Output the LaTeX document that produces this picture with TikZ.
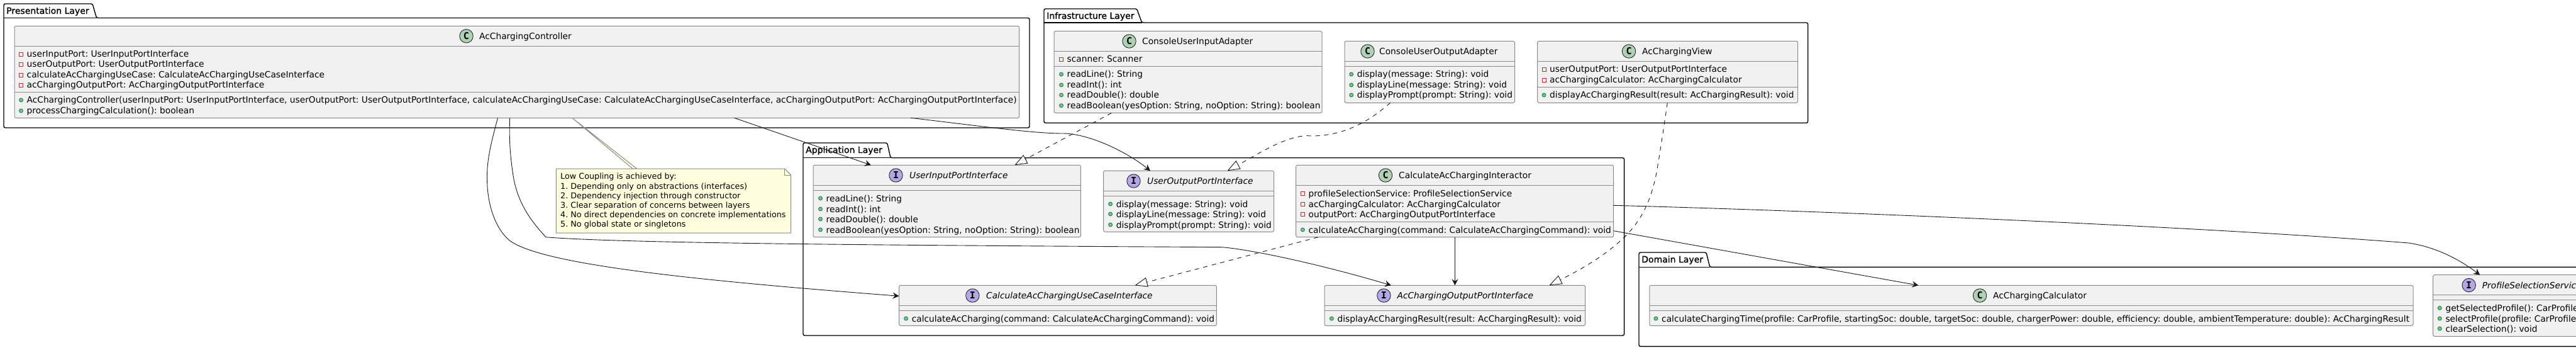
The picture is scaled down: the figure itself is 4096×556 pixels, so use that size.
\documentclass[tikz,border=0pt]{standalone}
\usepackage{fontspec}
\setmainfont{DejaVu Sans}
\setmonofont{DejaVu Sans Mono}
\newfontfamily\pkgfont[FakeBold=1.3]{DejaVu Sans}
\usetikzlibrary{arrows.meta}
\definecolor{boxfill}{HTML}{F1F1F1}
\definecolor{boxline}{HTML}{8A8A8A}
\definecolor{inkline}{HTML}{181818}
\definecolor{classgreen}{HTML}{ADD1B2}
\definecolor{ifacepurple}{HTML}{B4A7E5}
\definecolor{privred}{HTML}{C82930}
\definecolor{pubfill}{HTML}{84BE84}
\definecolor{publine}{HTML}{038048}
\definecolor{noteyellow}{HTML}{FEFFDD}
\frenchspacing
\tikzset{
    pkgframe/.style={draw=black, line width=1.4pt, rounded corners=2.5pt},
    pkglabel/.style={anchor=base west, inner sep=0pt, font=\fontsize{14}{16}\pkgfont},
    classbox/.style={rectangle, draw=boxline, fill=boxfill, line width=1pt, rounded corners=2.5pt, anchor=north west, inner sep=0pt, outer sep=0pt},
    sepline/.style={draw=boxline, line width=1pt},
    classmark/.style={circle, draw=inkline, fill=classgreen, line width=.8pt, minimum size=21.5pt, inner sep=0pt, font=\fontsize{15}{15}\ttfamily\bfseries},
    ifacemark/.style={classmark, fill=ifacepurple},
    titletext/.style={anchor=base west, inner sep=0pt, font=\fontsize{13.75}{16}\selectfont},
    ifacetext/.style={titletext, font=\fontsize{13.75}{16}\selectfont\itshape},
    rowtext/.style={anchor=base west, inner sep=0pt, font=\fontsize{13.75}{16}\selectfont},
    privmark/.style={draw=privred, line width=.9pt},
    pubmark/.style={draw=publine, fill=pubfill, line width=.8pt},
    uses/.style={->, draw=inkline, line width=.9pt},
    realizes/.style={draw=inkline, line width=.9pt, dash pattern=on 7pt off 7pt, -{Triangle[open, length=20pt, width=15pt, fill=white]}},
    notebox/.style={rectangle, minimum width=373.2pt, minimum height=102pt, anchor=north west, inner sep=0pt, outer sep=0pt},
    notefill/.style={draw=boxline, fill=noteyellow, line width=1pt},
    notetext/.style={anchor=north west, align=left, inner sep=0pt, font=\fontsize{12.75}{15.2}\selectfont}
}
\begin{document}
\begin{tikzpicture}[x=1pt, y=-1pt, >={Stealth[length=10pt, width=10pt, inset=3.5pt]}]
    \clip[use as bounding box] (0,0) rectangle (4096,556);
    % layers
    \foreach \n/\l/\x/\y/\t/\b/\h/\r/\e in {present/Presentation Layer/6/6/147/153.5/28.5/1637/203, infra/Infrastructure Layer/1660/14/1807.6/1815.6/36/2874.7/195.3, app/Application Layer/1277/227/1410.7/1416/250.7/2582.6/533, domain/Domain Layer/2606/401/2713/2718.7/424.3/4130/550.3} {
        \draw[pkgframe] (\x,\h) -- (\x,\y) -- (\t,\y) -- (\b,\h) -- (\r,\h) -- (\r,\e) -- (\x,\e) -- cycle;
        \draw[pkgframe] (\x,\h) -- (\b,\h);
        \node[pkglabel] (\n) at (\x+4,\y+16) {\l};
    }
    % class boxes
    \foreach \b/\x/\y/\w/\h/\s in {ctrl/23/41.3/1597.5/146/105, cinput/1676/49.5/426/130/56, coutput/2138/65.3/270.5/98/40, view/2444.6/65.3/414.1/98/73, uinput/1293/262.3/425.4/114.4/40, uoutput/1754.6/271.3/270.9/97/40, interactor/2060.7/262.3/504.9/114.4/90, usecase/1429.5/453.3/504.9/64/40, outport/2106/453.3/414.5/64/40, calculator/2622.8/453.3/1214.2/64/40, profile/3868.7/436.7/300/97.6/40} {
        \node[classbox, minimum width=\w pt, minimum height=\h pt] (\b) at (\x,\y) {};
        \draw[sepline] ([yshift=-32pt]\b.north west) -- ([yshift=-32pt]\b.north east);
        \draw[sepline] ([yshift=-\s pt]\b.north west) -- ([yshift=-\s pt]\b.north east);
    }
    % headers
    \foreach \n/\x/\y/\t/\l in {ctrl/741.5/57.3/762/AcChargingController, cinput/1795.5/65.5/1816/ConsoleUserInputAdapter, coutput/2174.5/81.5/2193/ConsoleUserOutputAdapter, view/2590/81.5/2611/AcChargingView, interactor/2203/278.5/2224/CalculateAcChargingInteractor, calculator/3148/469.5/3169/AcChargingCalculator} {
        \node[classmark] (\n mark) at (\x,\y) {C};
        \node[titletext] (\n title) at (\t,\y+5) {\l};
    }
    \foreach \n/\x/\y/\t/\l in {uinput/1424.5/278.5/1446/UserInputPortInterface, uoutput/1802.5/287.5/1824/UserOutputPortInterface, usecase/1546.4/469.5/1568/CalculateAcChargingUseCaseInterface, outport/2200.4/469.5/2221.4/AcChargingOutputPortInterface, profile/3925.7/453/3946.7/ProfileSelectionService} {
        \node[ifacemark] (\n mark) at (\x,\y) {I};
        \node[ifacetext] (\n title) at (\t,\y+5) {\l};
    }
    % private rows
    \foreach \n/\x/\y/\l [count=\i] in {ctrl/33.5/86/{userInputPort: UserInputPortInterface}, ctrl/33.5/102/{userOutputPort: UserOutputPortInterface}, ctrl/33.5/119/{calculateAcChargingUseCase: CalculateAcChargingUseCaseInterface}, ctrl/33.5/135/{acChargingOutputPort: AcChargingOutputPortInterface}, cinput/1687.5/94/{scanner: Scanner}, view/2455/110/{userOutputPort: UserOutputPortInterface}, view/2455/127/{acChargingCalculator: AcChargingCalculator}, interactor/2071.4/307/{profileSelectionService: ProfileSelectionService}, interactor/2071.4/324/{acChargingCalculator: AcChargingCalculator}, interactor/2071.4/340/{outputPort: AcChargingOutputPortInterface}} {
        \draw[privmark] (\x-3,\y-3) rectangle (\x+3,\y+3);
        \node[rowtext] (\n attr\i) at (\x+9,\y+5) {\l};
    }
    % public rows
    \foreach \n/\x/\y/\l [count=\i] in {ctrl/33.5/159/{AcChargingController(userInputPort: UserInputPortInterface, userOutputPort: UserOutputPortInterface, calculateAcChargingUseCase: CalculateAcChargingUseCaseInterface, acChargingOutputPort: AcChargingOutputPortInterface)}, ctrl/33.5/176/{processChargingCalculation(): boolean}, cinput/1687.5/118/{readLine(): String}, cinput/1687.5/135/{readInt(): int}, cinput/1687.5/151/{readDouble(): double}, cinput/1687.5/167.7/{readBoolean(yesOption: String, noOption: String): boolean}, coutput/2148.7/118/{display(message: String): void}, coutput/2148.7/135/{displayLine(message: String): void}, coutput/2148.7/151/{displayPrompt(prompt: String): void}, view/2455/151/{displayAcChargingResult(result: AcChargingResult): void}, uinput/1304.5/315/{readLine(): String}, uinput/1304.5/332/{readInt(): int}, uinput/1304.5/348/{readDouble(): double}, uinput/1304.5/365/{readBoolean(yesOption: String, noOption: String): boolean}, uoutput/1765.6/324/{display(message: String): void}, uoutput/1765.6/340/{displayLine(message: String): void}, uoutput/1765.6/357/{displayPrompt(prompt: String): void}, interactor/2071.4/365/{calculateAcCharging(command: CalculateAcChargingCommand): void}, usecase/1440.6/506/{calculateAcCharging(command: CalculateAcChargingCommand): void}, outport/2117.4/506/{displayAcChargingResult(result: AcChargingResult): void}, calculator/2633/506/{calculateChargingTime(profile: CarProfile, startingSoc: double, targetSoc: double, chargerPower: double, efficiency: double, ambientTemperature: double): AcChargingResult}, profile/3879.3/489.3/{getSelectedProfile(): CarProfile}, profile/3879.3/506/{selectProfile(profile: CarProfile}, profile/3879.3/522/{clearSelection(): void}} {
        \fill[pubmark] (\x,\y) circle (3pt);
        \node[rowtext] (\n oper\i) at (\x+9,\y+5) {\l};
    }
    % note
    \node[notebox] (lownote) at (884.4,268) {};
    \filldraw[notefill] ([xshift=886.8pt]ctrl.south west) -- ([xshift=121.4pt]lownote.north west) -- ([xshift=128.1pt]lownote.north west) -- cycle;
    \filldraw[notefill] (lownote.north west) -- ([xshift=-10pt]lownote.north east) -- ([yshift=-10pt]lownote.north east) -- (lownote.south east) -- (lownote.south west) -- cycle;
    \draw[notefill, fill=none] ([xshift=-10pt]lownote.north east) -- ([xshift=-10pt, yshift=-10pt]lownote.north east) -- ([yshift=-10pt]lownote.north east);
    \node[notetext] (lownotetext) at ([xshift=6.6pt, yshift=-7pt]lownote.north west) {Low Coupling is achieved by:\\1. Depending only on abstractions (interfaces)\\2. Dependency injection through constructor\\3. Clear separation of concerns between layers\\4. No direct dependencies on concrete implementations\\5. No global state or singletons};
    % dependencies
    \draw[uses] ([xshift=1144.4pt]ctrl.south west) -- ([xshift=92pt]uinput.north west);
    \draw[uses] ([xshift=1425pt]ctrl.south west) .. controls (1550,199) and (1640,212) .. (1690,212) .. controls (1730,212) and (1790,240) .. ([xshift=74.4pt]uoutput.north west);
    \draw[uses] ([xshift=768.5pt]ctrl.south west) .. controls (780,230) and (774,255) .. (774.5,285) .. controls (775,330) and (790,365) .. (809.8,381.7) .. controls (860,420) and (1100,445) .. ([yshift=-17pt]usecase.north west);
    \draw[uses] ([xshift=787.7pt]ctrl.south west) .. controls (809,225) and (812,255) .. (817,285) .. controls (825,325) and (845,352) .. (868,376.7) .. controls (1000,387.5) and (1500,390) .. (1943,392.7) .. controls (1990,396.5) and (2100,420) .. ([xshift=106pt]outport.north west);
    \draw[uses] ([xshift=252.7pt]interactor.south west) -- ([xshift=207.4pt]outport.north west);
    \draw[uses] ([yshift=-64pt]interactor.north east) .. controls (2900,335) and (3500,360) .. (3830,386) .. controls (3875,393) and (3910,412) .. ([xshift=74.6pt]profile.north west);
    \draw[uses] ([yshift=10pt]interactor.south east) -- ([xshift=427.6pt]calculator.north west);
    % realizations
    \draw[realizes] ([xshift=91.4pt]cinput.south west) -- ([xshift=320.3pt]uinput.north west);
    \draw[realizes] ([xshift=72.7pt]coutput.south west) .. controls (2180,190) and (2140,216) .. (2085,216) .. controls (2050,212) and (2000,245) .. ([xshift=196.9pt]uoutput.north west);
    \draw[realizes] ([xshift=35.3pt]interactor.south west) -- ([xshift=375pt]usecase.north west);
    \draw[realizes] ([xshift=206.7pt]view.south west) .. controls (2645,205) and (2640,240) .. (2634,274) .. controls (2625,320) and (2610,350) .. (2582.6,377) .. controls (2550,408) and (2510,430) .. ([xshift=357.4pt]outport.north west);
\end{tikzpicture}
\end{document}
